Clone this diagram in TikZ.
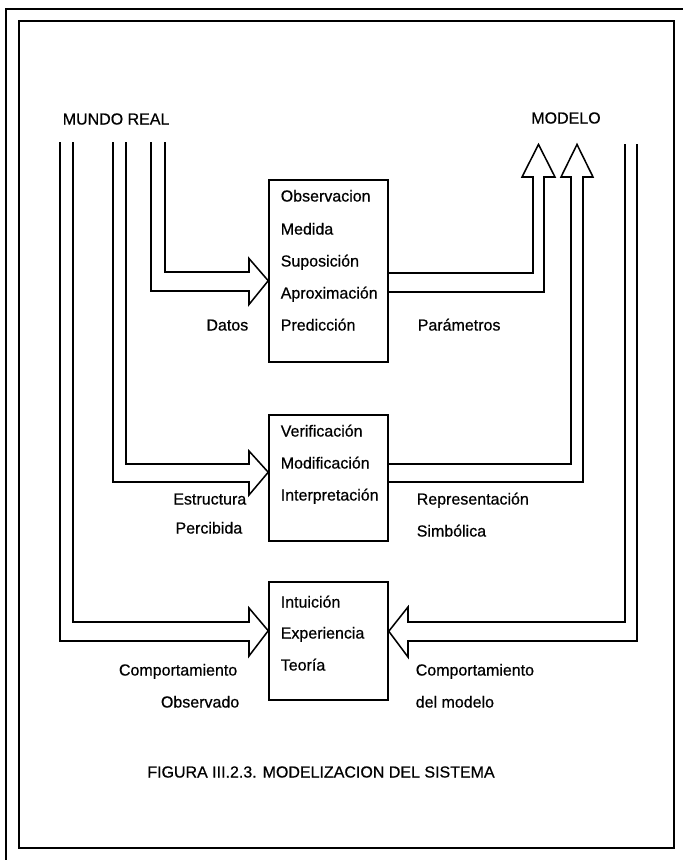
\documentclass[tikz,border=0pt]{standalone}
\usepackage{fontspec}
\setmainfont[FakeBold=0.6]{Liberation Sans}
\usetikzlibrary{fit,calc}
\begin{document}
\begin{tikzpicture}[x=0.75pt,y=-0.75pt,
  line width=1.15pt, line join=miter,
  boxn/.style={draw, inner sep=0pt},
  txt/.style={inner sep=0pt, font=\fontsize{12}{14}\selectfont},
  item/.style={txt, anchor=mid west},
  blockarrow/.style={draw, line join=miter}]

\useasboundingbox (0,0) rectangle (683,860);

% double frame (outer one runs off the page on the right and bottom)
\draw (6,860) -- (6,9) -- (683,9);
\draw (19,21) rectangle (674,848);

% headings
\node[txt, anchor=mid west] (mundo) at (62,121) {MUNDO REAL};
\node[txt, anchor=mid] (modelo) at (566,120) {MODELO};

% the three process boxes
\node[boxn, fit={(269,180) (388,362)}] (b1) {};
\node[boxn, fit={(269,415) (388,541)}] (b2) {};
\node[boxn, fit={(269,582) (388,700)}] (b3) {};

\node[item] (t11) at (280,198) {Observacion};
\node[item] (t12) at (280,231) {Medida};
\node[item] (t13) at (280,263) {Suposición};
\node[item] (t14) at (280,295) {Aproximación};
\node[item] (t15) at (280,327) {Predicción};

\node[item] (t21) at (280,433) {Verificación};
\node[item] (t22) at (280,465) {Modificación};
\node[item] (t23) at (280,497) {Interpretación};

\node[item] (t31) at (280,604) {Intuición};
\node[item] (t32) at (280,635) {Experiencia};
\node[item] (t33) at (280,667) {Teoría};

% arrow tips on the boxes
\coordinate (tipA) at ($(b1.north west)+(0,101.5)$);
\coordinate (tipB) at ($(b2.north west)+(0,58)$);
\coordinate (tipC) at ($(b3.north west)+(0,49.5)$);
\coordinate (tipD) at ($(b3.north east)+(0,50)$);
\coordinate (tipE) at ($(modelo.south)+(-27.5,20)$);
\coordinate (tipF) at ($(modelo.south)+(11,20)$);

% MUNDO REAL -> box 1 (Datos)
\draw[blockarrow] (165,142) -- (165,272) -- (249,272) -- (249,258.5) -- (tipA)
  -- (249,304.5) -- (249,291) -- (151,291) -- (151,142);
% MUNDO REAL -> box 2 (Estructura percibida)
\draw[blockarrow] (126,142) -- (126,464) -- (249,464) -- (249,451) -- (tipB)
  -- (249,495) -- (249,482) -- (113,482) -- (113,142);
% MUNDO REAL -> box 3 (Comportamiento observado)
\draw[blockarrow] (73,142) -- (73,622) -- (249,622) -- (249,608) -- (tipC)
  -- (249,656) -- (249,641) -- (60,641) -- (60,142);

% box 1 -> MODELO (Parametros)
\draw[blockarrow] (b1.east |- 0,273) -- (533,273) -- (533,177) -- (522,177) -- (tipE)
  -- (555,177) -- (544,177) -- (544,292) -- (b1.east |- 0,292);
% box 2 -> MODELO (Representacion simbolica)
\draw[blockarrow] (b2.east |- 0,464) -- (571,464) -- (571,177) -- (561,177) -- (tipF)
  -- (593,177) -- (583,177) -- (583,482) -- (b2.east |- 0,482);
% MODELO -> box 3 (Comportamiento del modelo)
\draw[blockarrow] (625,144) -- (625,622) -- (408,622) -- (408,607) -- (tipD)
  -- (408,657) -- (408,641) -- (637,641) -- (637,144);

% arrow labels
\node[txt, anchor=mid east] (datos) at (249,327) {Datos};
\node[txt, anchor=mid west] (param) at (417,327) {Parámetros};
\node[txt, anchor=mid east] (estr) at (247,501) {Estructura};
\node[txt, anchor=mid east] (perc) at (243,530) {Percibida};
\node[txt, anchor=mid west] (repr) at (416,501) {Representación};
\node[txt, anchor=mid west] (simb) at (416,533) {Simbólica};
\node[txt, anchor=mid east] (compo) at (238,672) {Comportamiento};
\node[txt, anchor=mid east] (obs) at (240,704) {Observado};
\node[txt, anchor=mid west] (compm) at (415,672) {Comportamiento};
\node[txt, anchor=mid west] (delm) at (415,704) {del modelo};

% caption
\node[txt, anchor=mid] (cap) at (321,774) {FIGURA III.2.3. MODELIZACION DEL SISTEMA};
\end{tikzpicture}
\end{document}
